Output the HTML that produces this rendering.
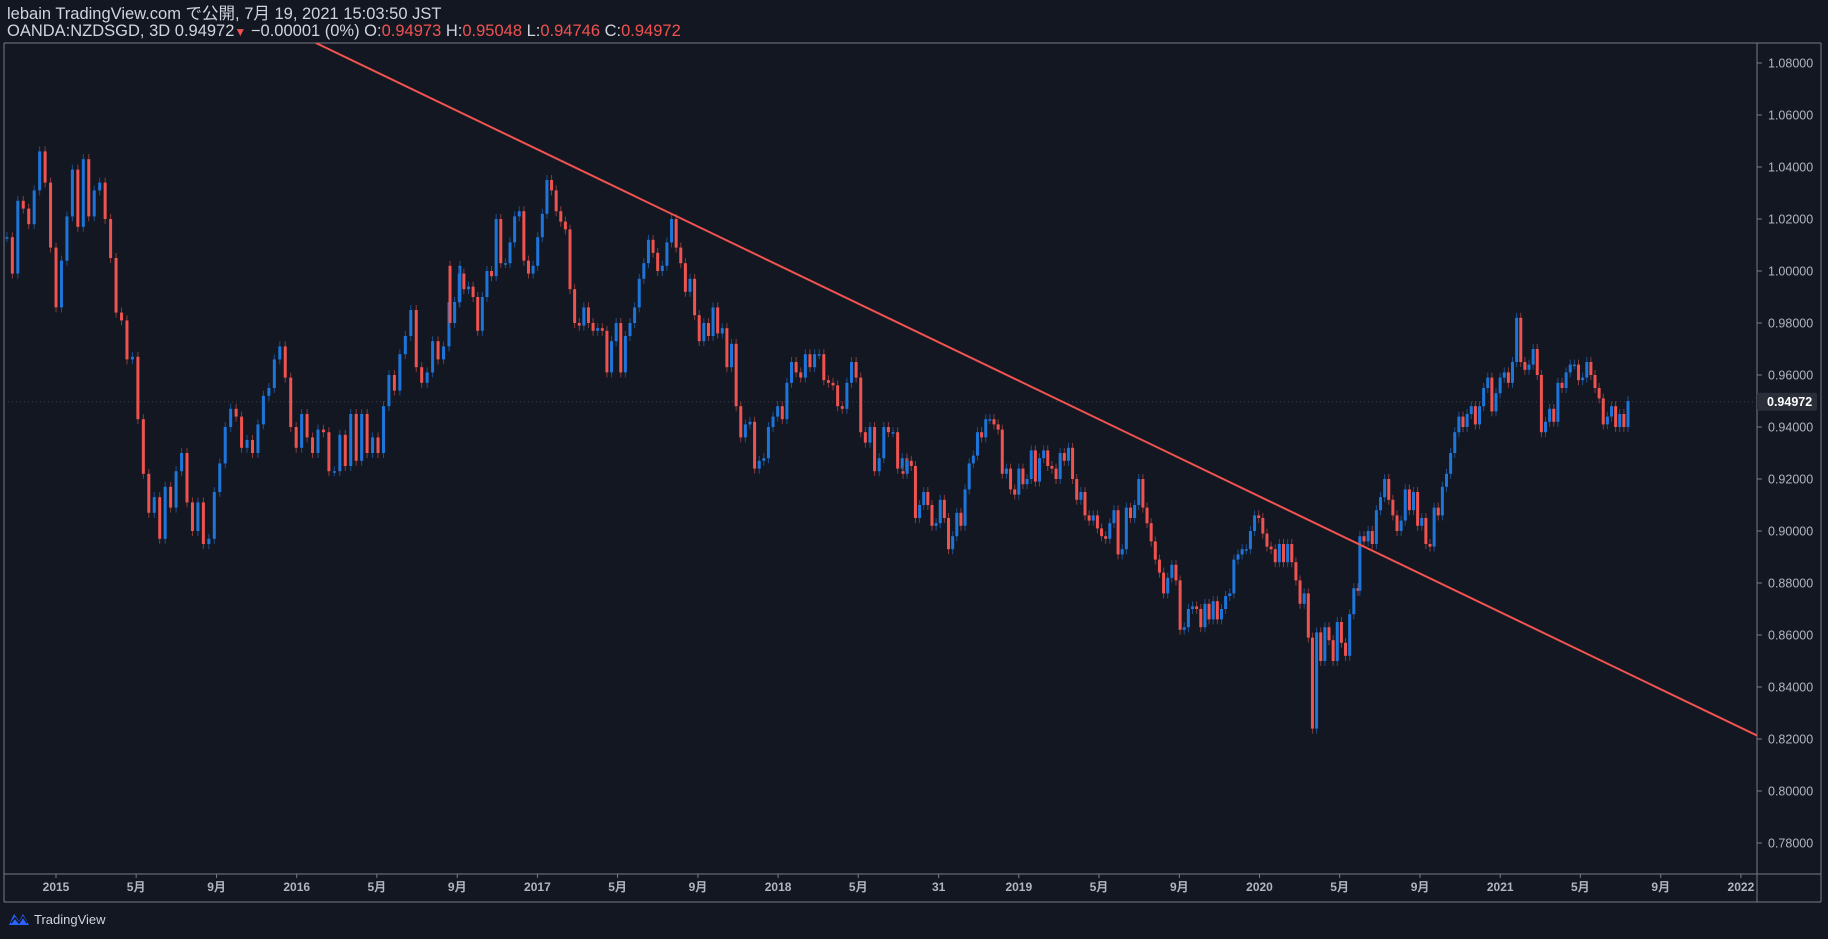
<!DOCTYPE html>
<html><head><meta charset="utf-8">
<style>
html,body{margin:0;padding:0;background:#131722;}
body{width:1828px;height:939px;position:relative;overflow:hidden;font-family:"Liberation Sans","Noto Sans CJK JP",sans-serif;color:#d1d4dc;}
.hdr{position:absolute;left:7px;font-size:16.5px;line-height:19px;white-space:nowrap;}
.red{color:#ef5350;}
</style></head>
<body>
<div class="hdr" style="top:5px">lebain TradingView.com で公開, 7月 19, 2021 15:03:50 JST</div>
<div class="hdr" style="top:22px">OANDA:NZDSGD, 3D 0.94972<span class="red" style="font-size:12px">▼</span> −0.00001 (0%) O:<span class="red">0.94973</span> H:<span class="red">0.95048</span> L:<span class="red">0.94746</span> C:<span class="red">0.94972</span></div>
<svg id="chart" width="1828" height="939" style="position:absolute;left:0;top:0"></svg>
<div style="position:absolute;left:8px;top:911px;font-size:13px;color:#d1d4dc;display:flex;align-items:center">
<svg width="22" height="16" viewBox="0 0 22 16"><path d="M1 14 L6 3 L11 10 L15 3 L21 14 Z" fill="#2962ff"/><path d="M3 12 L7 7 L11 12 L15 6 L19 12" stroke="#131722" stroke-width="1.5" fill="none"/></svg>
<span style="margin-left:4px">TradingView</span></div>
<script>
const closes1 = [1.013,0.999,1.027,1.024,1.018,1.031,1.046,1.034,1.009,0.986,1.004,1.021,1.039,1.017,1.043,1.021,1.031,1.034,1.020,1.005,0.984,0.981,0.966,0.967,0.943,0.922,0.907,0.913,0.897,0.917,0.909,0.923,0.930,0.911,0.900,0.911,0.895,0.897,0.915,0.926,0.940,0.947,0.944,0.932,0.935,0.930,0.941,0.952,0.955,0.966,0.971,0.959,0.940,0.932,0.945,0.936,0.930,0.939,0.938,0.923,0.923,0.937,0.925,0.945,0.927,0.945,0.930,0.936,0.930,0.948,0.960,0.954,0.968,0.975,0.985,0.963,0.957,0.961,0.973,0.966,0.971,0.988,0.988,1.002];
const closes2 = [0.980,0.988,0.999,0.993,0.994,0.990,0.977,0.990,1.000,0.998,1.020,1.003,1.003,1.011,1.021,1.023,1.004,0.999,1.002,1.013,1.022,1.035,1.031,1.023,1.019,1.016,0.993,0.980,0.979,0.986,0.980,0.977,0.978,0.977,0.961,0.973,0.980,0.961,0.975,0.980,0.986,0.997,1.003,1.012,1.007,1.000,1.002,1.011,1.020,1.009,1.003,0.992,0.997,0.983,0.973,0.980,0.975,0.986,0.976,0.978,0.963,0.972,0.948,0.936,0.941,0.942,0.924,0.927,0.928,0.940,0.944,0.948,0.943,0.957,0.965,0.961,0.959,0.968,0.963,0.968,0.968,0.958,0.957,0.956,0.948,0.947,0.957,0.965,0.959,0.938,0.934,0.940,0.923,0.928,0.940,0.938,0.938,0.924,0.928,0.923];
const closes3 = [0.922,0.927,0.925,0.905,0.910,0.915,0.910,0.902,0.903,0.912,0.905,0.893,0.898,0.907,0.902,0.916,0.926,0.929,0.938,0.936,0.943,0.943,0.941,0.939,0.922,0.924,0.916,0.914,0.924,0.918,0.920,0.931,0.919,0.928,0.931,0.925,0.924,0.920,0.930,0.927,0.932,0.920,0.912,0.915,0.906,0.904,0.906,0.901,0.898,0.897,0.903,0.908,0.891,0.893,0.909,0.905,0.910,0.920,0.909,0.903,0.896,0.889,0.884,0.876,0.882,0.887,0.881,0.862,0.863,0.870,0.871,0.870,0.863,0.872,0.866,0.873,0.866,0.870,0.875,0.876,0.889,0.891,0.893,0.893,0.900,0.906,0.905,0.899,0.894,0.893,0.888,0.895,0.888,0.895,0.888,0.881,0.872,0.876,0.859,0.824,0.861,0.850,0.863,0.858,0.850,0.865,0.857,0.852,0.868,0.878,0.877];
const closes4 = [0.898,0.896,0.900,0.895,0.908,0.913,0.920,0.912,0.906,0.900,0.904,0.916,0.908,0.915,0.902,0.905,0.895,0.894,0.909,0.906,0.917,0.922,0.930,0.938,0.944,0.940,0.945,0.948,0.941,0.948,0.955,0.959,0.946,0.953,0.959,0.961,0.957,0.965,0.982,0.965,0.962,0.964,0.970,0.960,0.938,0.942,0.947,0.942,0.957,0.955,0.961,0.964,0.964,0.958,0.959,0.965,0.960,0.955,0.951,0.941,0.944,0.948,0.940,0.945,0.940,0.950];
const segmentStart = [2014.796, 2016.637, 2018.519, 2020.417];
const segmentEnd = [2016.678, 2018.535, 2020.409, 2021.531];
const priceTicks = [1.08,1.06,1.04,1.02,1.00,0.98,0.96,0.94,0.92,0.90,0.88,0.86,0.84,0.82,0.80,0.78];
const timeLabels = ["2015","5月","9月","2016","5月","9月","2017","5月","9月","2018","5月","31","2019","5月","9月","2020","5月","9月","2021","5月","9月","2022"];
const timeValues = [2015,2015.333,2015.667,2016,2016.333,2016.667,2017,2017.333,2017.667,2018,2018.333,2018.667,2019,2019.333,2019.667,2020,2020.333,2020.667,2021,2021.333,2021.667,2022];
const trendTimes = [2016.08, 2022.07];
const trendPrices = [1.0877, 0.8212];
const lastPrice = 0.94972;

const NS='http://www.w3.org/2000/svg';
const svg=document.getElementById('chart');
const L=4,R=1757,T=43,B=874;
const y=p=>63+(1.08-p)*2600;
const xt=t=>56+(t-2015)*240.7;
function mk(tag,attrs){const e=document.createElementNS(NS,tag);for(const k in attrs)e.setAttribute(k,attrs[k]);svg.appendChild(e);return e;}

let e;
e=mk('line',{x1:L,y1:T,x2:1821,y2:T,stroke:'#787b86'});


e=mk('line',{x1:L,y1:B,x2:1821,y2:B,stroke:'#787b86'});


e=mk('line',{x1:L,y1:902,x2:1821,y2:902,stroke:'#787b86'});


e=mk('line',{x1:L,y1:T,x2:L,y2:902,stroke:'#787b86'});


e=mk('line',{x1:R,y1:T,x2:R,y2:902,stroke:'#787b86'});


e=mk('line',{x1:1821,y1:T,x2:1821,y2:902,stroke:'#787b86'});



priceTicks.forEach(p=>{
  const yy=y(p);
  let t=mk('line',{x1:R,y1:yy,x2:R+5,y2:yy,stroke:'#787b86'});
  
  
  let tx=mk('text',{x:1768,y:yy+4.5,fill:'#b2b5be','font-size':12.5,'font-family':'Liberation Sans, sans-serif'});
  tx.textContent=p.toFixed(5);
  
  
});
timeValues.forEach((t,i)=>{
  const xx=xt(t);
  let tk=mk('line',{x1:xx,y1:B,x2:xx,y2:B+4,stroke:'#787b86'});
  
  
  let tx=mk('text',{x:xx,y:B+17,fill:'#b2b5be','font-size':12,'font-weight':'bold','text-anchor':'middle','font-family':'Liberation Sans, Noto Sans CJK JP, sans-serif'});
  tx.textContent=timeLabels[i];
  
  
});

e=mk('line',{x1:L,y1:y(lastPrice),x2:R,y2:y(lastPrice),stroke:'#434651','stroke-dasharray':'1 3'});



const bw=3;
let prev=null;
[closes1,closes2,closes3,closes4].forEach((arr,s)=>{
  arr.forEach((c,i)=>{
    const t=segmentStart[s]+(segmentEnd[s]-segmentStart[s])*i/(arr.length-1);
    const o=prev===null?c:prev;
    prev=c;
    const up=c>=o;
    const top=y(Math.max(o,c)), bot=y(Math.min(o,c));
    const col=up?'#1e75d9':'#ef5350';
    const w=mk('line',{x1:xt(t),x2:xt(t),y1:top-5,y2:bot+5,stroke:up?'#1b4f8f':'#8a3a3a','stroke-width':1});
    
    
    const r=mk('rect',{x:xt(t)-bw/2,y:top,width:bw,height:Math.max(1.5,bot-top),fill:col});
    
    
  });
});

const cp=document.createElementNS(NS,'clipPath');cp.id='clip';
const cr=document.createElementNS(NS,'rect');cr.setAttribute('x',L);cr.setAttribute('y',T);cr.setAttribute('width',R-L);cr.setAttribute('height',B-T);
cp.appendChild(cr);svg.appendChild(cp);
e=mk('line',{x1:xt(trendTimes[0]),y1:y(trendPrices[0]),x2:xt(trendTimes[1]),y2:y(trendPrices[1]),stroke:'#f05350','stroke-width':2,'clip-path':'url(#clip)'});



e=mk('rect',{x:R,y:y(lastPrice)-9,width:60,height:18,fill:'#2a2e39',rx:2});


e=mk('text',{x:1767,y:y(lastPrice)+4.5,fill:'#ffffff','font-size':12.5,'font-weight':'bold','font-family':'Liberation Sans, sans-serif'});
e.textContent=lastPrice.toFixed(5);


</script>
</body></html>
